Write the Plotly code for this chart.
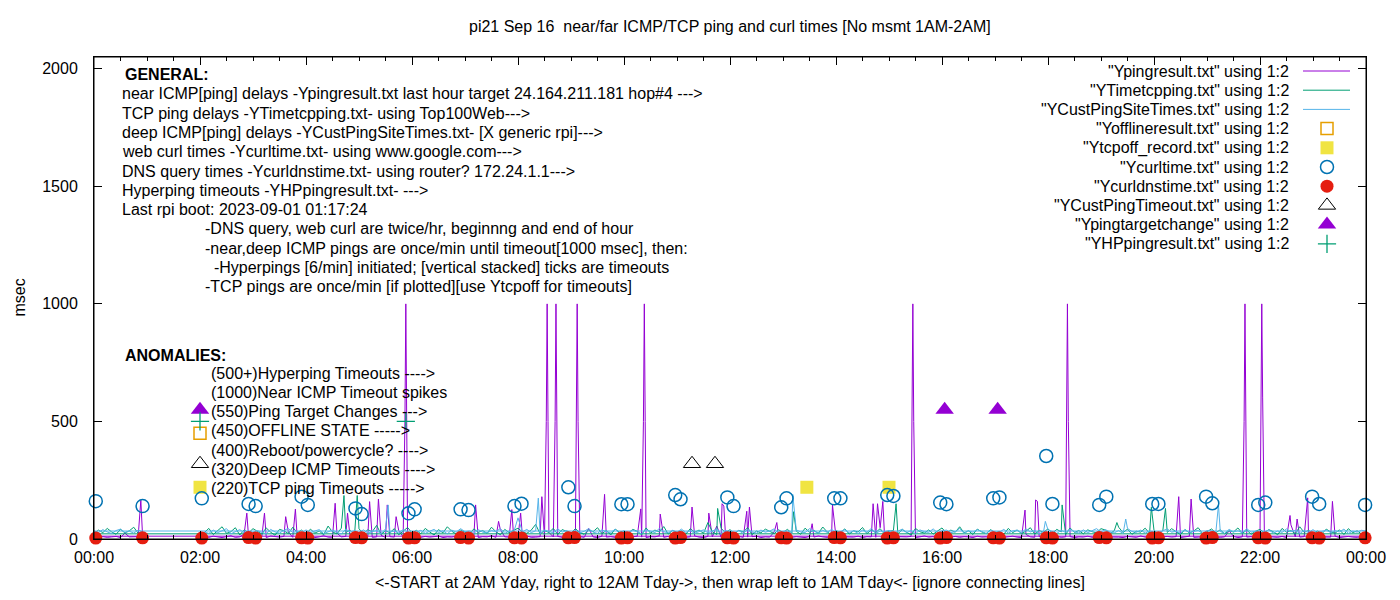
import pandas as pd
import plotly.graph_objects as go

day = "2023-09-16"
FONT = "Liberation Sans"

# 5-min readings, one row per hour: 02:05..03:00, ..., 23:05..24:00, then wrap 00:00..00:55
near_rows = [
    [9, 7, 12, 8, 6, 10, 14, 7, 9, 22, 8, 11],
    [7, 10, 6, 13, 9, 8, 11, 30, 7, 9, 12, 8],
    [10, 6, 9, 14, 8, 7, 25, 9, 11, 6, 10, 8],
    [8, 12, 7, 9, 16, 6, 10, 8, 35, 9, 7, 11],
    [9, 7, 11, 8, 10, 13, 6, 9, 8, 12, 7, 10],
    [11, 8, 6, 10, 9, 14, 7, 40, 9, 8, 11, 7],
    [9, 13, 7, 8, 10, 6, 28, 9, 11, 7, 9, 12],
    [8, 10, 7, 45, 9, 6, 12, 8, 10, 7, 9, 11],
    [7, 9, 12, 8, 6, 10, 9, 14, 7, 11, 8, 9],
    [10, 7, 9, 13, 8, 6, 11, 9, 55, 7, 10, 8],
    [9, 11, 7, 8, 10, 12, 6, 9, 8, 30, 7, 10],
    [8, 7, 10, 9, 6, 11, 8, 13, 9, 7, 10, 8],
    [11, 9, 7, 8, 12, 6, 10, 9, 7, 48, 8, 10],
    [7, 10, 8, 9, 11, 6, 9, 13, 8, 10, 7, 9],
    [9, 8, 11, 7, 10, 9, 6, 12, 8, 9, 10, 7],
    [10, 7, 9, 12, 8, 6, 20, 9, 7, 11, 8, 9],
    [8, 11, 7, 9, 10, 6, 9, 8, 12, 7, 10, 9],
    [9, 7, 10, 8, 6, 11, 9, 7, 13, 8, 10, 9],
    [7, 9, 11, 8, 10, 6, 9, 12, 7, 8, 10, 9],
    [10, 8, 7, 9, 35, 11, 6, 9, 8, 10, 7, 12],
    [8, 10, 9, 7, 11, 6, 60, 9, 8, 10, 7, 9],
    [9, 7, 10, 8, 12, 6, 9, 11, 8, 7, 10, 12],
    [12, 8, 10, 7, 9, 11, 6, 25, 9, 8, 10, 12],
]
tcp_rows = [
    [28, 45, 19, 36, 52, 24, 31, 48, 17, 39, 26, 44],
    [33, 21, 47, 29, 16, 41, 35, 23, 50, 27, 38, 20],
    [42, 25, 34, 18, 55, 30, 22, 46, 28, 37, 19, 43],
    [24, 39, 31, 58, 20, 35, 27, 44, 18, 33, 49, 26],
    [37, 22, 45, 30, 17, 40, 26, 52, 33, 21, 38, 29],
    [19, 43, 28, 36, 24, 50, 31, 18, 41, 27, 35, 46],
    [30, 24, 38, 62, 22, 35, 28, 45, 19, 40, 33, 25],
    [44, 27, 20, 39, 31, 48, 23, 36, 17, 42, 29, 34],
    [26, 41, 33, 18, 47, 25, 38, 30, 53, 21, 36, 28],
    [35, 20, 44, 29, 38, 24, 70, 31, 19, 45, 27, 40],
    [22, 37, 30, 48, 19, 34, 26, 42, 32, 23, 39, 28],
    [41, 25, 33, 20, 46, 29, 37, 24, 51, 30, 18, 36],
    [27, 43, 21, 35, 30, 49, 23, 38, 28, 44, 20, 33],
    [36, 22, 40, 28, 17, 45, 31, 25, 39, 21, 34, 47],
    [24, 38, 29, 52, 26, 35, 19, 42, 30, 23, 40, 27],
    [32, 20, 45, 27, 38, 24, 33, 48, 21, 36, 29, 43],
    [25, 41, 30, 19, 47, 28, 36, 22, 39, 31, 26, 44],
    [38, 23, 35, 50, 27, 42, 20, 33, 29, 46, 24, 37],
    [21, 36, 28, 44, 31, 19, 40, 26, 34, 48, 23, 30],
    [43, 27, 39, 22, 35, 30, 47, 24, 38, 20, 33, 41],
    [26, 40, 31, 18, 45, 29, 36, 23, 52, 28, 37, 24],
    [34, 22, 42, 30, 25, 39, 19, 44, 27, 35, 21, 22],
    [22, 38, 27, 45, 30, 20, 41, 26, 35, 50, 24, 33],
]
deep_rows = [
    [30, 24, 38, 27, 35, 44, 22, 31, 40, 26, 33, 29],
    [36, 28, 22, 41, 30, 25, 37, 45, 27, 32, 24, 39],
    [26, 34, 40, 23, 31, 38, 28, 21, 42, 30, 35, 27],
    [39, 25, 31, 36, 22, 43, 29, 34, 26, 40, 30, 24],
    [28, 37, 24, 33, 41, 27, 35, 22, 38, 29, 44, 31],
    [34, 23, 40, 29, 26, 36, 31, 45, 24, 33, 27, 90],
    [30, 41, 27, 35, 23, 38, 32, 26, 43, 29, 36, 25],
    [37, 26, 33, 44, 29, 24, 39, 31, 27, 42, 23, 35],
    [25, 38, 30, 22, 40, 34, 27, 45, 31, 26, 37, 29],
    [42, 28, 35, 24, 31, 39, 26, 33, 44, 22, 36, 30],
    [27, 36, 23, 41, 30, 25, 38, 29, 34, 43, 24, 32],
    [35, 22, 39, 30, 27, 44, 33, 25, 37, 28, 41, 26],
    [31, 40, 26, 35, 23, 38, 29, 45, 24, 34, 30, 37],
    [24, 33, 42, 27, 36, 22, 39, 31, 28, 43, 26, 35],
    [38, 27, 31, 45, 24, 35, 29, 40, 33, 23, 37, 30],
    [29, 41, 25, 34, 38, 26, 43, 30, 36, 22, 32, 39],
    [33, 24, 37, 28, 42, 31, 25, 39, 27, 35, 44, 29],
    [40, 30, 26, 36, 23, 45, 32, 28, 38, 25, 34, 31],
    [26, 35, 43, 29, 33, 24, 40, 27, 31, 37, 22, 36],
    [37, 28, 32, 24, 41, 30, 35, 26, 44, 29, 33, 27],
    [30, 39, 25, 34, 28, 43, 31, 37, 23, 36, 27, 40],
    [25, 32, 38, 27, 35, 30, 42, 24, 33, 29, 37, 34],
    [34, 27, 40, 30, 23, 36, 42, 28, 33, 25, 38, 31],
]

# off-grid readings (spikes / timeouts)
near_extra_t = ["00:53", "02:53", "03:13", "03:37", "03:48", "04:33", "04:47", "05:12",
                "05:22", "05:32", "05:42", "05:52", "05:53", "05:54", "07:12", "07:38",
                "07:53", "08:03", "08:27", "08:32", "08:33", "08:34", "08:42", "08:43",
                "08:44", "09:06", "09:07", "09:08", "09:38", "10:19", "10:22", "10:23",
                "10:24", "10:41", "11:17", "11:36", "11:51", "11:53", "12:19", "12:22",
                "12:53", "13:33", "13:56", "14:42", "14:47", "14:53", "15:26", "15:27",
                "15:28", "17:34", "17:46", "17:48", "18:21", "18:22", "18:23", "20:28",
                "20:42", "21:42", "21:43", "21:44", "22:01", "22:02", "22:03", "22:34",
                "22:42", "22:54", "23:22"]
near_extra_v = [165, 110, 110, 95, 127, 152, 110, 159,
                170, 145, 95, 500, 1000, 500, 145, 75,
                125, 110, 180, 500, 1000, 500, 500, 1000,
                500, 500, 1000, 500, 190, 128, 500, 1000,
                500, 106, 136, 110, 150, 140, 118, 136,
                70, 65, 145, 150, 150, 160, 500, 1000,
                500, 123, 166, 160, 500, 1000, 500, 180,
                170, 500, 1000, 500, 500, 1000, 600, 100,
                85, 175, 160]
tcp_extra_t = ["04:43", "04:58", "11:46", "13:12", "15:08", "18:16", "19:18", "19:57", "20:13"]
tcp_extra_v = [185, 185, 130, 116, 150, 145, 70, 135, 130]
deep_extra_t = ["05:33", "08:23", "13:11", "17:57", "19:28", "21:13"]
deep_extra_v = [145, 174, 190, 75, 85, 145]

curl_t = ["00:02", "00:55", "02:02", "02:55", "03:03", "03:55", "04:02", "04:56", "05:03",
          "05:56", "06:03", "06:55", "07:04", "07:56", "08:04", "08:57", "09:04", "09:57",
          "10:04", "10:58", "11:04", "11:57", "12:04", "12:58", "13:04", "13:58", "14:05",
          "14:58", "15:05", "15:58", "16:05", "16:58", "17:05", "17:58", "18:05", "18:58",
          "19:06", "19:58", "20:05", "20:59", "21:06", "21:58", "22:06", "22:59", "23:07",
          "23:59"]
curl_v = [161, 140, 173, 149, 140, 180, 145, 130, 106, 109, 126, 126, 123, 140, 150, 220,
          140, 148, 148, 187, 169, 177, 140, 135, 173, 173, 173, 187, 183, 155, 148, 173,
          177, 353, 149, 145, 180, 149, 149, 180, 152, 145, 155, 180, 149, 145]
dns_t = curl_t
dns_v = [4, 5, 4, 6, 4, 5, 4, 6, 5, 4, 5, 6, 4, 5, 4, 5, 6, 4, 5, 4, 6, 5, 4, 5,
         4, 6, 5, 4, 5, 4, 6, 5, 4, 5, 4, 6, 5, 4, 5, 4, 6, 5, 4, 5, 4, 5]

offline_t, offline_v = ["02:00"], [450]
tcpoff_t, tcpoff_v = ["02:00", "13:27", "15:00"], [220, 220, 220]
custto_t, custto_v = ["02:00", "11:17", "11:43"], [320, 320, 320]
target_t, target_v = ["02:00", "16:03", "17:03"], [550, 550, 550]
hp_t, hp_v = ["02:00", "05:53"], [500, 500]

legend_names = ['"Ypingresult.txt" using 1:2', '"YTimetcpping.txt" using 1:2',
                '"YCustPingSiteTimes.txt" using 1:2', '"Yofflineresult.txt" using 1:2',
                '"Ytcpoff_record.txt" using 1:2', '"Ycurltime.txt" using 1:2',
                '"Ycurldnstime.txt" using 1:2', '"YCustPingTimeout.txt" using 1:2',
                '"Ypingtargetchange" using 1:2', '"YHPpingresult.txt" using 1:2']

general_lines = [
    "near ICMP[ping] delays -Ypingresult.txt last hour target 24.164.211.181 hop#4 ---&gt;",
    "TCP ping delays -YTimetcpping.txt- using Top100Web---&gt;",
    "deep ICMP[ping] delays -YCustPingSiteTimes.txt- [X generic rpi]---&gt;",
    "web curl times -Ycurltime.txt- using www.google.com---&gt;",
    "DNS query times -Ycurldnstime.txt- using router? 172.24.1.1---&gt;",
    "Hyperping timeouts -YHPpingresult.txt- ---&gt;",
    "Last rpi boot: 2023-09-01 01:17:24",
]
notes = [
    "-DNS query, web curl are twice/hr, beginnng and end of hour",
    "-near,deep ICMP pings are once/min until timeout[1000 msec], then:",
    "&nbsp;&nbsp;-Hyperpings [6/min] initiated; [vertical stacked] ticks are timeouts",
    "-TCP pings are once/min [if plotted][use Ytcpoff for timeouts]",
]
anomalies = [
    "(500+)Hyperping Timeouts ----&gt;",
    "(1000)Near ICMP Timeout spikes",
    "(550)Ping Target Changes ---&gt;",
    "(450)OFFLINE STATE -----&gt;",
    "(400)Reboot/powercycle? ----&gt;",
    "(320)Deep ICMP Timeouts ----&gt;",
    "(220)TCP ping Timeouts -----&gt;",
]

start = pd.Timestamp(day)
YMAX = 2050
# plot box in reference pixels; the page body adds an 8px offset
L, R, T, B = 94, 1366, 57, 539
OFF = 8
W, H = 1400 - OFF, 600 - OFF


def hm(s):
    return start + pd.Timedelta(hours=int(s[:2]), minutes=int(s[3:]))


def px_x(px):
    return (px - L) / (R - L)


def px_y(py):
    return (B - py) / (B - T)


grid = list(pd.date_range(day + " 02:05", periods=264, freq="5min")) + \
    list(pd.date_range(day + " 00:00", periods=12, freq="5min"))
wrap_at = hm("02:00")


def series(rows, ext_t, ext_v):
    vals = [v for r in rows for v in r]
    pts = list(zip(grid, vals)) + [(hm(t), v) for t, v in zip(ext_t, ext_v)]
    # recording order: 2AM yesterday -> midnight, then wrap to 00:00..01:00
    pts.sort(key=lambda p: p[0] + pd.Timedelta(days=1) if p[0] < wrap_at else p[0])
    return [p[0] for p in pts], [p[1] for p in pts]


fig = go.Figure()

colors = ["#9400d3", "#009e73", "#56b4e9"]
for rows, et, ev, c in [(near_rows, near_extra_t, near_extra_v, colors[0]),
                        (tcp_rows, tcp_extra_t, tcp_extra_v, colors[1]),
                        (deep_rows, deep_extra_t, deep_extra_v, colors[2])]:
    x, y = series(rows, et, ev)
    fig.add_trace(go.Scatter(x=x, y=y, mode="lines", line=dict(color=c, width=1),
                             showlegend=False))

marker_styles = [
    (offline_t, offline_v, dict(symbol="square-open", color="#e69f00", size=12, line=dict(width=1.5))),
    (tcpoff_t, tcpoff_v, dict(symbol="square", color="#f0e442", size=13)),
    (curl_t, curl_v, dict(symbol="circle-open", color="#0072b2", size=13, line=dict(width=1.5))),
    (dns_t, dns_v, dict(symbol="circle", color="#e51e10", size=13)),
    (custto_t, custto_v, dict(symbol="triangle-up-open", color="black", size=15, line=dict(width=1))),
    (target_t, target_v, dict(symbol="triangle-up", color="#9400d3", size=16)),
    (hp_t, hp_v, dict(symbol="cross-thin-open", color="#009e73", size=13, line=dict(width=1.3))),
]
for t, v, m in marker_styles:
    fig.add_trace(go.Scatter(x=[hm(s) for s in t], y=v, mode="markers", marker=m,
                             showlegend=False, cliponaxis=False))

# key samples, placed in the top-right corner of the plot box
row_y = [71 + 19.2 * i for i in range(len(legend_names))]


def key_x(px):
    return start + pd.Timedelta(days=px_x(px))


def key_y(py):
    return px_y(py) * YMAX


for i, c in enumerate(colors):
    fig.add_trace(go.Scatter(x=[key_x(1303), key_x(1350)], y=[key_y(row_y[i])] * 2,
                             mode="lines", line=dict(color=c, width=1), showlegend=False))
for i, (_, _, m) in enumerate(marker_styles):
    fig.add_trace(go.Scatter(x=[key_x(1327)], y=[key_y(row_y[i + 3])], mode="markers",
                             marker=m, showlegend=False))

txt = dict(family=FONT, size=16, color="black")
ann = []
for name, yy in zip(legend_names, row_y):
    ann.append(dict(x=px_x(1291), y=px_y(yy), text=name, xanchor="right"))
ann.append(dict(x=px_x(123), y=px_y(75), text="<b>GENERAL:</b>", xanchor="left"))
for i, s in enumerate(general_lines):
    ann.append(dict(x=px_x(120), y=px_y(94 + 19.25 * i), text=s, xanchor="left"))
for i, s in enumerate(notes):
    ann.append(dict(x=px_x(203), y=px_y(229 + 19.3 * i), text=s, xanchor="left"))
ann.append(dict(x=px_x(123), y=px_y(355), text="<b>ANOMALIES:</b>", xanchor="left"))
for i, s in enumerate(anomalies):
    ann.append(dict(x=px_x(209), y=px_y(373 + 19.3 * i), text=s, xanchor="left"))
ann.append(dict(x=0.5, y=px_y(26), xanchor="center",
                text="pi21 Sep 16&nbsp; near/far ICMP/TCP ping and curl times [No msmt 1AM-2AM]"))
ann.append(dict(x=0.5, y=px_y(582), xanchor="center",
                text="&lt;-START at 2AM Yday, right to 12AM Tday-&gt;, then wrap left to 1AM Tday&lt;- [ignore connecting lines]"))
ann.append(dict(x=px_x(8), y=px_y(298), xanchor="left", textangle=-90, text="msec"))
for a in ann:
    a.update(xref="paper", yref="paper", yanchor="middle", showarrow=False, font=txt)

fig.update_layout(
    width=W, height=H,
    margin=dict(l=L - OFF, r=W - (R - OFF), t=T - OFF, b=H - (B - OFF)),
    paper_bgcolor="white", plot_bgcolor="white",
    font=txt,
    annotations=ann,
    shapes=[dict(type="rect", xref="paper", yref="paper", x0=0, y0=0, x1=1, y1=1,
                 line=dict(color="black", width=1), layer="above")],
    xaxis=dict(type="date", range=[start, start + pd.Timedelta(days=1)],
               tick0=start, dtick=2 * 3600 * 1000, tickformat="%H:%M",
               ticks="inside", ticklen=8, tickcolor="black",
               minor=dict(dtick=30 * 60 * 1000, ticks="inside", ticklen=4, tickcolor="black"),
               showline=True, linecolor="black", linewidth=1, mirror="ticks",
               showgrid=False, zeroline=False, ticklabelstandoff=4, automargin=False),
    yaxis=dict(range=[0, YMAX], dtick=500, ticks="inside", ticklen=8, tickcolor="black",
               showline=True, linecolor="black", linewidth=1, mirror="ticks",
               showgrid=False, zeroline=False, ticklabelstandoff=12, automargin=False),
)

fig.write_html("out.html")
